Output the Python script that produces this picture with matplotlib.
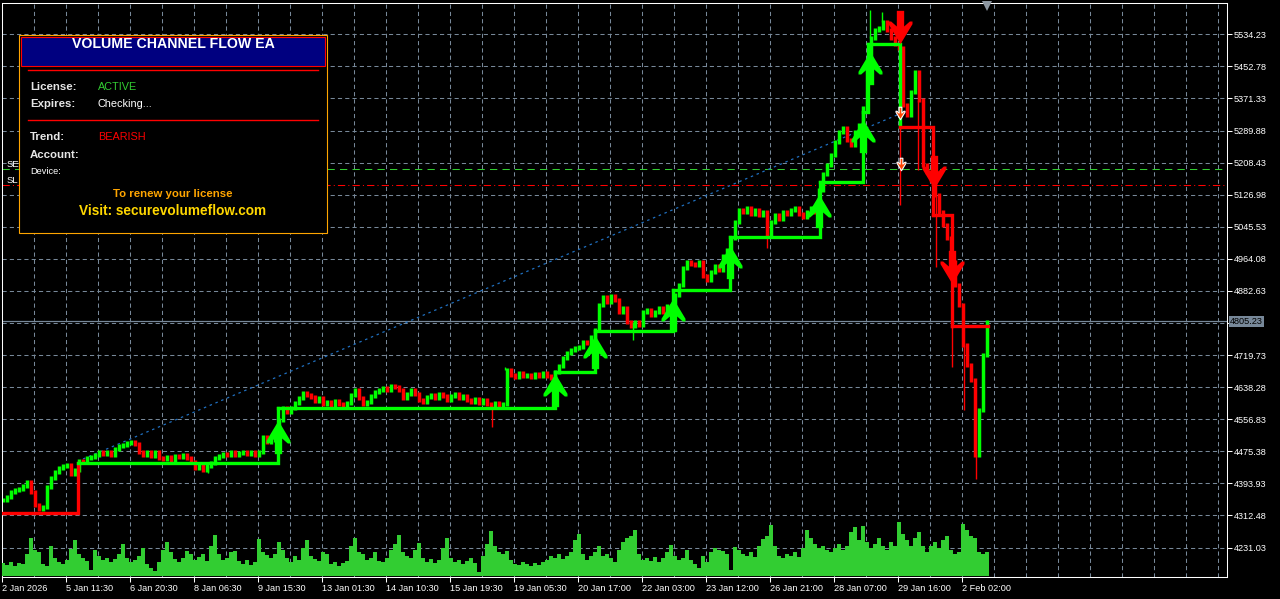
import numpy as np
import matplotlib
matplotlib.use("Agg")
import matplotlib.pyplot as plt
from matplotlib.path import Path
from matplotlib.patches import Rectangle
from matplotlib.ticker import FixedLocator

plt.rcParams['font.family'] = ['Liberation Sans', 'DejaVu Sans']

GREEN = '#00FF00'
RED = '#FF0000'
GRID = '#778899'

# XAUUSD M30 closes, one value every 4 bars
closes = [
    4351.8, 4359.4, 4372.1, 4377.2, 4379.7, 4387.3, 4397.5, 4372.1, 4339.1, 4328.9,
    4334.0, 4384.8, 4407.7, 4422.9, 4433.0, 4438.1, 4440.7, 4417.8, 4428.0, 4450.8,
    4448.3, 4458.4, 4461.0, 4466.1, 4473.7, 4468.6, 4473.7, 4466.1, 4481.3, 4488.9,
    4491.4, 4496.5, 4499.1, 4494.0, 4473.7, 4466.1, 4473.7, 4463.5, 4473.7, 4458.4,
    4455.9, 4461.0, 4453.4, 4463.5, 4461.0, 4466.1, 4458.4, 4448.3, 4433.0, 4438.1,
    4428.0, 4438.1, 4445.7, 4458.4, 4463.5, 4468.6, 4466.1, 4473.7, 4466.1, 4471.2,
    4473.7, 4468.6, 4473.7, 4466.1, 4473.7, 4511.8, 4499.1, 4504.1, 4511.8, 4554.9,
    4585.4, 4575.2, 4585.4, 4598.1, 4610.8, 4623.5, 4618.4, 4613.3, 4603.2, 4610.8,
    4595.5, 4600.6, 4593.0, 4603.2, 4595.5, 4590.5, 4598.1, 4618.4, 4631.1, 4610.8,
    4595.5, 4600.6, 4615.9, 4626.0, 4631.1, 4636.2, 4631.1, 4641.2, 4638.7, 4631.1,
    4610.8, 4620.9, 4631.1, 4620.9, 4605.7, 4600.6, 4613.3, 4618.4, 4610.8, 4620.9,
    4615.9, 4605.7, 4615.9, 4620.9, 4610.8, 4615.9, 4605.7, 4600.6, 4608.2, 4598.1,
    4605.7, 4595.5, 4593.0, 4598.1, 4593.0, 4595.5, 4681.9, 4669.2, 4664.1, 4674.3,
    4666.6, 4669.2, 4664.1, 4671.7, 4666.6, 4674.3, 4666.6, 4661.6, 4676.8, 4692.0,
    4712.3, 4725.0, 4732.6, 4737.7, 4740.3, 4753.0, 4750.4, 4765.7, 4783.4, 4846.9,
    4867.2, 4854.5, 4869.8, 4859.6, 4829.1, 4839.3, 4803.7, 4793.6, 4803.7, 4796.1,
    4829.1, 4834.2, 4821.5, 4829.1, 4839.3, 4829.1, 4844.4, 4839.3, 4872.3, 4897.7,
    4940.8, 4956.1, 4951.0, 4948.5, 4956.1, 4920.5, 4910.4, 4930.7, 4945.9, 4935.8,
    4971.3, 4986.5, 5017.0, 5057.6, 5088.1, 5083.0, 5093.2, 5078.0, 5088.1, 5075.4,
    5083.0, 5024.6, 5057.6, 5075.4, 5065.3, 5083.0, 5078.0, 5088.1, 5093.2, 5078.0,
    5070.3, 5083.0, 5093.2, 5083.0, 5138.9, 5179.5, 5202.4, 5227.8, 5260.8, 5286.2,
    5296.3, 5265.8, 5253.1, 5286.2, 5303.9, 5347.1, 5443.6, 5524.8, 5545.1, 5550.2,
    5565.4, 5545.1, 5524.8, 5509.6, 5499.4, 5354.7, 5329.3, 5387.7, 5438.5, 5367.4,
    5202.4, 5184.6, 5164.3, 5126.2, 5083.0, 5050.0, 5017.0, 4956.1, 4897.7, 4846.9,
    4745.3, 4694.6, 4656.5, 4466.1, 4580.3, 4720.0, 4805.23,
]

tick_volume = [
    13, 11, 14, 10, 13, 12, 22, 38, 26, 24,
    12, 10, 30, 18, 14, 12, 16, 27, 36, 22,
    18, 15, 6, 26, 20, 16, 18, 14, 17, 22,
    32, 18, 14, 16, 20, 28, 12, 8, 5, 14,
    26, 34, 24, 17, 14, 18, 25, 22, 16, 19,
    22, 15, 30, 41, 22, 16, 18, 24, 25, 15,
    12, 16, 11, 14, 37, 24, 21, 18, 22, 34,
    26, 18, 14, 20, 16, 28, 36, 20, 17, 15,
    24, 22, 12, 14, 10, 13, 15, 30, 38, 24,
    22, 16, 18, 24, 15, 14, 18, 26, 32, 41,
    24, 20, 18, 26, 33, 18, 14, 17, 13, 16,
    28, 38, 18, 14, 16, 12, 15, 18, 13, 4,
    20, 32, 45, 30, 24, 22, 25, 16, 12, 11,
    14, 12, 10, 13, 11, 14, 16, 20, 18, 22,
    17, 20, 24, 36, 42, 22, 16, 20, 24, 30,
    20, 22, 18, 14, 26, 34, 38, 40, 46, 22,
    16, 18, 15, 19, 14, 18, 24, 31, 20, 16,
    18, 26, 16, 12, 8, 20, 14, 24, 28, 26,
    25, 22, 6, 29, 26, 22, 20, 24, 19, 30,
    37, 40, 51, 30, 20, 18, 22, 20, 24, 19,
    28, 46, 38, 32, 28, 30, 26, 24, 28, 32,
    26, 30, 44, 49, 36, 50, 34, 28, 32, 38,
    30, 26, 34, 30, 54, 42, 36, 30, 38, 44,
    30, 24, 30, 34, 28, 36, 40, 26, 22, 24,
    52, 46, 40, 38, 24, 22, 24,
]

# long wicks (bar, extreme price)
wick_bars = [206, 490, 503, 631, 765, 868, 880, 898, 916, 934, 950, 962, 974]
wick_prices = [4420.3, 4537.1, 4689.5, 4758.0, 4991.6, 5595.9, 5590.8,
               5100.8, 5189.7, 4943.4, 4689.5, 4580.3, 4405.1]

time_labels = ["2 Jan 2026", "5 Jan 11:30", "6 Jan 20:30", "8 Jan 06:30",
               "9 Jan 15:30", "13 Jan 01:30", "14 Jan 10:30", "15 Jan 19:30",
               "19 Jan 05:30", "20 Jan 17:00", "22 Jan 03:00", "23 Jan 12:00",
               "26 Jan 21:00", "28 Jan 07:00", "29 Jan 16:00", "2 Feb 02:00"]
price_ticks = [5534.23, 5452.78, 5371.33, 5289.88, 5208.43, 5126.98, 5045.53,
               4964.08, 4882.63, 4801.18, 4719.73, 4638.28, 4556.83, 4475.38,
               4393.93, 4312.48, 4231.03]

# channel flow staircase
step_edges = [1, 76, 276, 553, 593, 671, 728, 818, 861, 866, 898, 931, 950, 986]
step_levels = [4318.8, 4445.7, 4585.4, 4676.8, 4780.9, 4885.0, 5019.5,
               5159.2, 5336.9, 5509.6, 5298.8, 5075.4, 4793.6]
step_bull = [False, True, True, True, True, True, True, True, True, True,
             False, False, False]

buy_x = [276, 553, 593, 671, 728, 817, 861, 868]
buy_y = [4511.0, 4630.0, 4728.0, 4822.0, 4955.0, 5085.0, 5276.0, 5448.0]
sell_x = [898, 932, 950]
sell_y = [5552.0, 5185.0, 4944.0]
trade_x = [898, 899]
trade_y = [5334.4, 5204.9]

trend_x = [81, 895]
trend_y = [4455.9, 5329.3]
sell_entry = 5192.2
stop_loss = 5151.6
last_price = 4805.23


fig = plt.figure(figsize=(12.8, 5.99), dpi=100, facecolor='black')
pos = [2 / 1280, 22 / 599, 1225 / 1280, 574 / 599]
ax = fig.add_axes(pos, facecolor='black')
ax.set_xlim(0, 1225)
ax.set_ylim(4156.3, 5613.7)

# grid
major_x = [64 * k for k in range(len(time_labels))]
minor_x = [32 * k for k in range(1, 39) if 32 * k not in major_x]
ax.xaxis.set_major_locator(FixedLocator(major_x))
ax.xaxis.set_minor_locator(FixedLocator(minor_x))
ax.set_xticklabels(time_labels, ha='left')
ax.set_yticks(price_ticks)
ax.set_yticklabels(['' if abs(p - last_price) < 10 else '%.2f' % p for p in price_ticks])
ax.yaxis.tick_right()
ax.grid(True, which='both', color=GRID, ls=(0, (4, 3)), lw=0.75, zorder=0.5)
ax.set_axisbelow(True)
ax.tick_params(axis='x', which='major', colors='white', length=3.5, width=0.75,
               pad=1.5, labelsize=6.6, top=False)
ax.tick_params(axis='x', which='minor', length=0)
ax.tick_params(axis='y', colors='white', length=3.5, width=0.75, pad=1.5,
               labelsize=6.6, left=False, right=True)
for sp in ax.spines.values():
    sp.set_color('white')
    sp.set_linewidth(0.75)

# reference lines
ax.axhline(sell_entry, color='#32CD32', ls=(0, (7, 5)), lw=0.75, zorder=1)
ax.axhline(stop_loss, color=RED, ls=(0, (7, 3, 1, 3)), lw=0.75, zorder=1)
ax.axhline(last_price, color=GRID, lw=0.9, zorder=1)
ax.plot(trend_x, trend_y, color='#2070C0', ls=(0, (2, 3)), lw=0.9, zorder=1.5)

# candles
closes = np.array(closes)
bars = 1 + 4 * np.arange(len(closes))
opens = np.r_[closes[0], closes[:-1]]
up = closes >= opens
lo = np.minimum(opens, closes) - 4
hi = np.maximum(opens, closes) + 4
ax.vlines(bars[up], lo[up], hi[up], color=GREEN, lw=2.5, zorder=2)
ax.vlines(bars[~up], lo[~up], hi[~up], color=RED, lw=2.5, zorder=2)
for b, p in zip(wick_bars, wick_prices):
    i = int(round((b - 1) / 4))
    ax.vlines(b, min(p, closes[i]), max(p, closes[i]),
              color=GREEN if up[i] else RED, lw=1.0, zorder=2)

# staircase
for k, lvl in enumerate(step_levels):
    col = GREEN if step_bull[k] else RED
    xs = [step_edges[k], step_edges[k + 1]]
    ys = [lvl, lvl]
    if k + 1 < len(step_levels):
        xs.append(step_edges[k + 1])
        ys.append(step_levels[k + 1])
    ax.plot(xs, ys, color=col, lw=2.4, solid_joinstyle='miter',
            solid_capstyle='projecting', zorder=3)

# arrows (wide head with swept-back barbs, thick stem)
up_verts = [(0, 0.5), (0.36, -0.1), (0.36, -0.18), (0.28, -0.18), (0.11, -0.03),
            (0.11, -0.5), (-0.11, -0.5), (-0.11, -0.03), (-0.28, -0.18),
            (-0.36, -0.18), (-0.36, -0.1), (0, 0.5)]
up_arrow = Path(up_verts, closed=True)
down_arrow = Path([(x, -y) for x, y in up_verts], closed=True)
ax.plot(buy_x, buy_y, ls='none', marker=up_arrow, markersize=24,
        color=GREEN, markeredgewidth=0, zorder=4)
ax.plot(sell_x, sell_y, ls='none', marker=down_arrow, markersize=24,
        color=RED, markeredgewidth=0, zorder=4)
ax.plot(trade_x, trade_y, ls='none', marker=down_arrow, markersize=9,
        markerfacecolor='#FF4500', markeredgecolor='white', markeredgewidth=0.8,
        zorder=4)

# last price tag
ax.text(1.0025, last_price, '%.2f' % last_price, transform=ax.get_yaxis_transform(),
        color='black', fontsize=6.6, va='center', ha='left', clip_on=False,
        zorder=10, bbox=dict(boxstyle='square,pad=0.15', fc=GRID, ec='none'))

# volume histogram
axv = fig.add_axes(pos)
axv.set_xlim(0, 1225)
axv.set_ylim(-1.5, 572.5)
axv.axis('off')
axv.patch.set_visible(False)
axv.bar(bars, tick_volume, width=4, color='#32CD32', linewidth=0)

# info panel overlay (pixel coordinates)
ov = fig.add_axes([0, 0, 1, 1])
ov.set_xlim(0, 1280)
ov.set_ylim(599, 0)
ov.axis('off')
ov.patch.set_visible(False)

ov.text(7, 167, 'SE', color='white', fontsize=6.8, va='baseline')
ov.text(7, 183, 'SL', color='white', fontsize=6.8, va='baseline')
ov.plot(987, 5.5, marker='v', markersize=7, color='#8C96A0', markeredgewidth=0)

ov.add_patch(Rectangle((19, 35), 308, 198, fc='black', ec='#FFA500', lw=0.8, zorder=5))
ov.add_patch(Rectangle((21, 37), 304, 29, fc='#000080', ec=RED, lw=0.8, zorder=6))
ov.plot([28, 318], [70, 70], color=RED, lw=1.0, zorder=6)
ov.plot([28, 318], [120, 120], color=RED, lw=1.0, zorder=6)

ov.text(173, 48, 'VOLUME CHANNEL FLOW EA', color='white', fontsize=10.2,
        fontweight='bold', ha='center', va='baseline', zorder=7)
rows = [("License:", "ACTIVE", '#32CD32', 90),
        ("Expires:", "Checking...", 'white', 107),
        ("Trend:", "BEARISH", RED, 140),
        ("Account:", "", 'white', 158)]
for name, val, col, yb in rows:
    ov.text(30, yb, name, color='#E6E6E6', fontsize=8.2, fontweight='bold',
            va='baseline', zorder=7)
    ov.text(98, yb, val, color=col, fontsize=7.8, va='baseline', zorder=7)
ov.text(30, 174, 'Device:', color='white', fontsize=6.7, va='baseline', zorder=7)
ov.text(173, 197, 'To renew your license', color='#FFA500', fontsize=8.2,
        fontweight='bold', ha='center', va='baseline', zorder=7)
ov.text(173, 215, 'Visit: securevolumeflow.com', color='#FFD700', fontsize=9.8,
        fontweight='bold', ha='center', va='baseline', zorder=7)

fig.savefig('out.png', dpi=100, facecolor='black')
